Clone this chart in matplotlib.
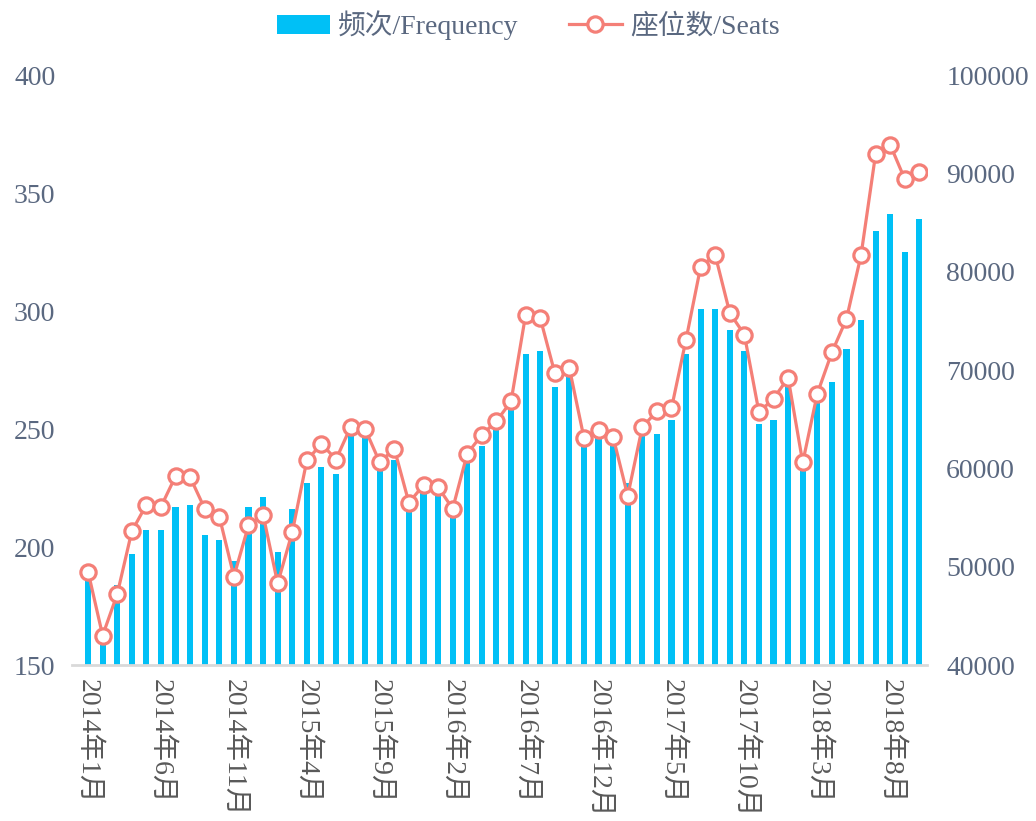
import matplotlib
matplotlib.use("Agg")
import matplotlib.pyplot as plt
import numpy as np

plt.rcParams['font.family'] = ['Liberation Serif', 'Noto Sans CJK SC', 'DejaVu Sans']

# 2014年1月 .. 2018年10月, monthly
meses = []
for ano in range(2014, 2019):
    for m in range(1, 13):
        meses.append(f"{ano}年{m}月")
meses = meses[:58]

frequencia = [187, 163, 184, 197, 207, 207, 217, 218, 205, 203,
              194, 217, 221, 198, 216, 227, 234, 231, 248, 247,
              232, 237, 216, 223, 223, 214, 236, 243, 250, 258,
              282, 283, 268, 273, 244, 247, 244, 227, 248, 248,
              254, 282, 301, 301, 292, 283, 252, 254, 269, 235,
              261, 270, 284, 296, 334, 341, 325, 339]

assentos = [49500, 43000, 47200, 53600, 56300, 56100, 59200, 59100, 55900, 55100,
            49000, 54200, 55300, 48300, 53500, 60800, 62500, 60900, 64200, 64000,
            60600, 62000, 56500, 58300, 58100, 55900, 61500, 63400, 64800, 66800,
            75600, 75300, 69700, 70200, 63100, 63900, 63200, 57200, 64200, 65800,
            66100, 73100, 80500, 81700, 75800, 73600, 65700, 67100, 69200, 60600,
            67600, 71800, 75200, 81700, 92000, 92900, 89400, 90100]

azul = "#00C0F6"
salmao = "#F47F77"
cor_y = "#5A6880"
cor_x = "#595959"

fig = plt.figure(figsize=(10.36, 8.21), dpi=100)
ax = fig.add_axes([0.0695, 0.19, 0.825, 0.7186])
ax2 = ax.twinx()

x = np.arange(len(meses))
ax.bar(x, frequencia, width=0.42, color=azul, label="频次/Frequency", zorder=2)
ax2.plot(x, assentos, color=salmao, lw=2.3, marker="o", markersize=11,
         markerfacecolor="white", markeredgecolor=salmao, markeredgewidth=2.3,
         label="座位数/Seats", zorder=3)

ax.set_ylim(150, 400)
ax.set_yticks([150, 200, 250, 300, 350, 400])
ax2.set_ylim(40000, 100000)
ax2.set_yticks(range(40000, 100001, 10000))
ax.set_xlim(-1.1, 57.5)

ax.set_xticks(x[::5])
ax.set_xticklabels(meses[::5], rotation=-90, va="top", ha="center")

for a in (ax, ax2):
    for lado in ["top", "left", "right", "bottom"]:
        a.spines[lado].set_visible(False)
    a.tick_params(length=0)

ax.spines["bottom"].set_visible(True)
ax.spines["bottom"].set_color("#D9D9D9")
ax.spines["bottom"].set_linewidth(2)

ax.tick_params(axis="y", labelsize=20, labelcolor=cor_y, pad=12)
ax2.tick_params(axis="y", labelsize=20, labelcolor=cor_y, pad=14)
ax.tick_params(axis="x", labelsize=20, labelcolor=cor_x, pad=10)

h1, l1 = ax.get_legend_handles_labels()
h2, l2 = ax2.get_legend_handles_labels()
fig.legend(h1 + h2, l1 + l2, loc="upper center", bbox_to_anchor=(0.51, 1.018),
           ncol=2, frameon=False, fontsize=20, labelcolor=cor_y,
           handlelength=1.9, handletextpad=0.3, columnspacing=1.8)

plt.savefig("out.png", dpi=100)
